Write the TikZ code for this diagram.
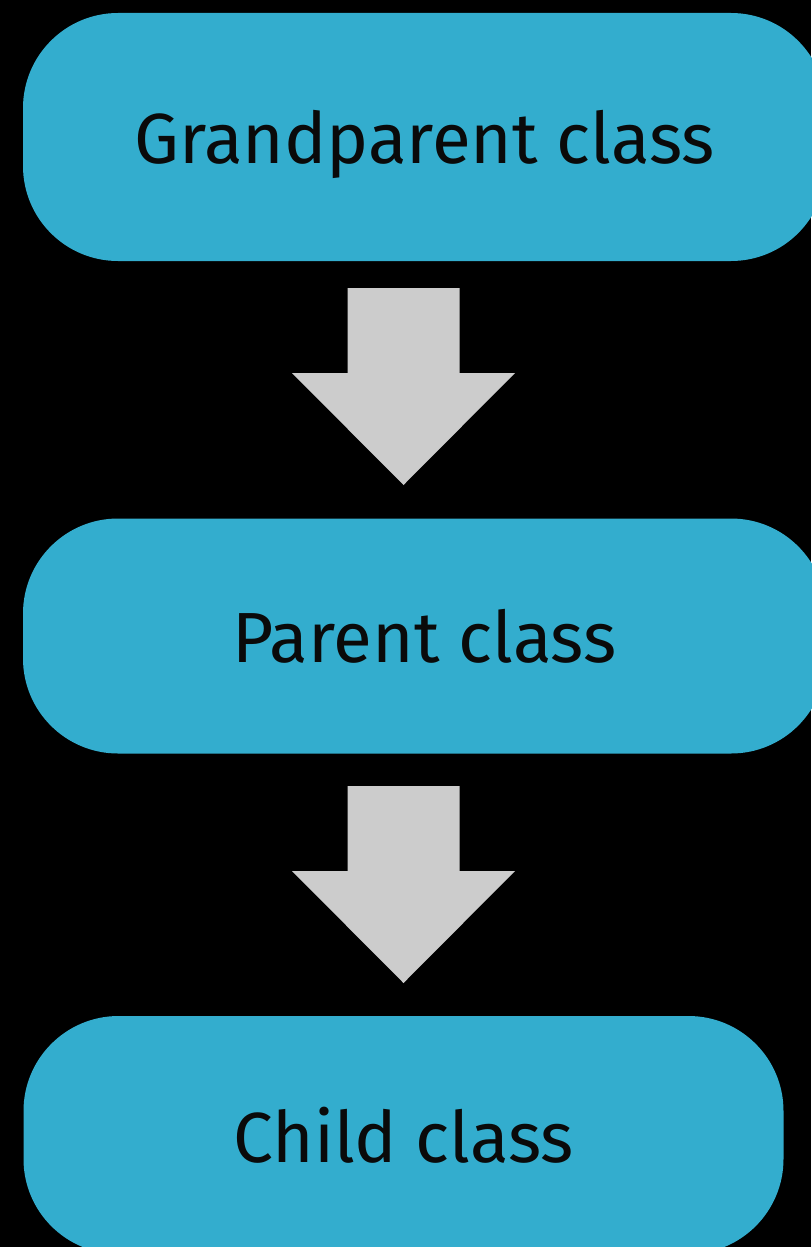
\documentclass[tikz,border=0pt]{standalone}
\usepackage{fontspec}
\setmainfont{Fira Sans}
\definecolor{boxblue}{HTML}{33ADCE}
\definecolor{arrowgray}{HTML}{CCCCCC}
\definecolor{txt}{HTML}{0A0A0A}
\begin{document}
\begin{tikzpicture}[x=1pt,y=-1pt,
  classbox/.style={fill=boxblue, draw=none, rounded corners=95pt, inner sep=0pt,
    text=txt, font=\fontsize{71}{80}\selectfont, text depth=0pt, anchor=center},
  blockarrow/.style={fill=arrowgray, draw=none}]
\fill[black] (0,0) rectangle (811,1247);
\useasboundingbox (0,0) rectangle (811,1247);
\node[classbox, minimum width=803pt, minimum height=248pt] (gp) at (424.5,137) {Grandparent class};
\node[classbox, minimum width=803pt, minimum height=235pt] (p) at (424.5,636) {Parent class};
\node[classbox, minimum width=760pt, minimum height=238pt] (c) at (403.5,1135) {Child class};
\coordinate (a1) at (403.5,288);
\coordinate (a2) at (403.5,786);
\foreach \a in {a1,a2}{
  \fill[blockarrow] (\a) ++(-56,0) -- ++(112,0) -- ++(0,85) -- ++(55.5,0) -- ++(-111.5,112) -- ++(-111.5,-112) -- ++(55.5,0) -- cycle;
}
\end{tikzpicture}
\end{document}
